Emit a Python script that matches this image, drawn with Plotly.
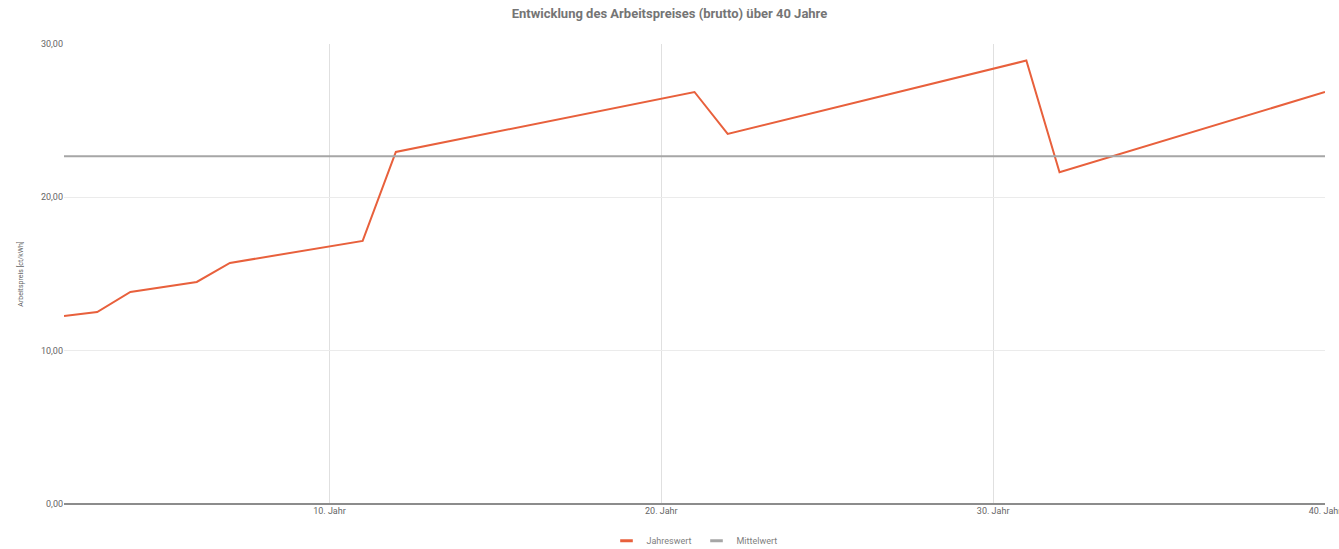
import plotly.graph_objects as go

# Jahre 2..40 (Jahr 1 liegt am linken Rand ausserhalb)
jahre = list(range(2, 41))

# Arbeitspreis brutto [ct/kWh]
jahreswert = [
    12.26, 12.52, 13.83, 14.16, 14.48, 15.72, 16.08, 16.44, 16.80, 17.16,
    22.96, 23.39, 23.83, 24.26, 24.70, 25.13, 25.57, 26.00, 26.43, 26.87,
    24.14, 24.67, 25.20, 25.73, 26.26, 26.79, 27.33, 27.86, 28.39, 28.92,
    21.64, 22.29, 22.95, 23.60, 24.26, 24.91, 25.56, 26.22, 26.87,
]
mittelwert = 22.68

tick_vals = [10, 20, 30, 40]
tick_text = ["10. Jahr", "20. Jahr", "30. Jahr", "40. Jahr"]

farbe_jahr = "#e8603c"
farbe_mittel = "#a6a6a6"

fig = go.Figure()
fig.add_trace(go.Scatter(
    x=jahre, y=jahreswert, mode="lines", name="Jahreswert", showlegend=False,
    line=dict(color=farbe_jahr, width=2),
))
fig.add_trace(go.Scatter(
    x=[jahre[0], jahre[-1]], y=[mittelwert, mittelwert], mode="lines",
    name="Mittelwert", showlegend=False,
    line=dict(color=farbe_mittel, width=2),
))

# kurze Striche als Legendensymbole
for name, farbe in [("Jahreswert", farbe_jahr), ("Mittelwert", farbe_mittel)]:
    fig.add_trace(go.Scatter(
        x=[None], y=[None], mode="markers", name=name,
        marker=dict(symbol="line-ew-open", size=9, color=farbe,
                    line=dict(color=farbe, width=3)),
    ))

fig.update_layout(
    width=1339, height=549,
    title=dict(text="<b>Entwicklung des Arbeitspreises (brutto) über 40 Jahre</b>",
               x=0.5, xanchor="center", y=0.975, yanchor="middle",
               font=dict(family="Roboto", size=13, color="#757575")),
    font=dict(family="Roboto", size=9, color="#666666"),
    margin=dict(l=64, r=14, t=44, b=45),
    plot_bgcolor="white",
    paper_bgcolor="white",
    legend=dict(orientation="h", x=0.5, xanchor="center",
                yref="container", y=0.015, yanchor="middle",
                font=dict(size=9, color="#808080")),
)

fig.update_xaxes(
    range=[2, 40], tickvals=tick_vals, ticktext=tick_text,
    showgrid=True, gridcolor="#e0e0e0", gridwidth=1,
    zeroline=False, showline=False, ticks="",
    automargin=False, ticklabeloverflow="allow",
)
fig.update_yaxes(
    range=[0, 30], tickvals=[0, 10, 20, 30],
    ticktext=["0,00", "10,00", "20,00", "30,00"],
    showgrid=True, gridcolor="#ebebeb", gridwidth=1,
    zeroline=True, zerolinecolor="#8c8c8c", zerolinewidth=1.5,
    ticks="", automargin=False,
    title=dict(text="Arbeitspreis [ct/kWh]", font=dict(size=7, color="#666666"), standoff=16),
)

fig.write_html("out.html", config={"displayModeBar": False},
               post_script="document.body.style.margin='0';")
